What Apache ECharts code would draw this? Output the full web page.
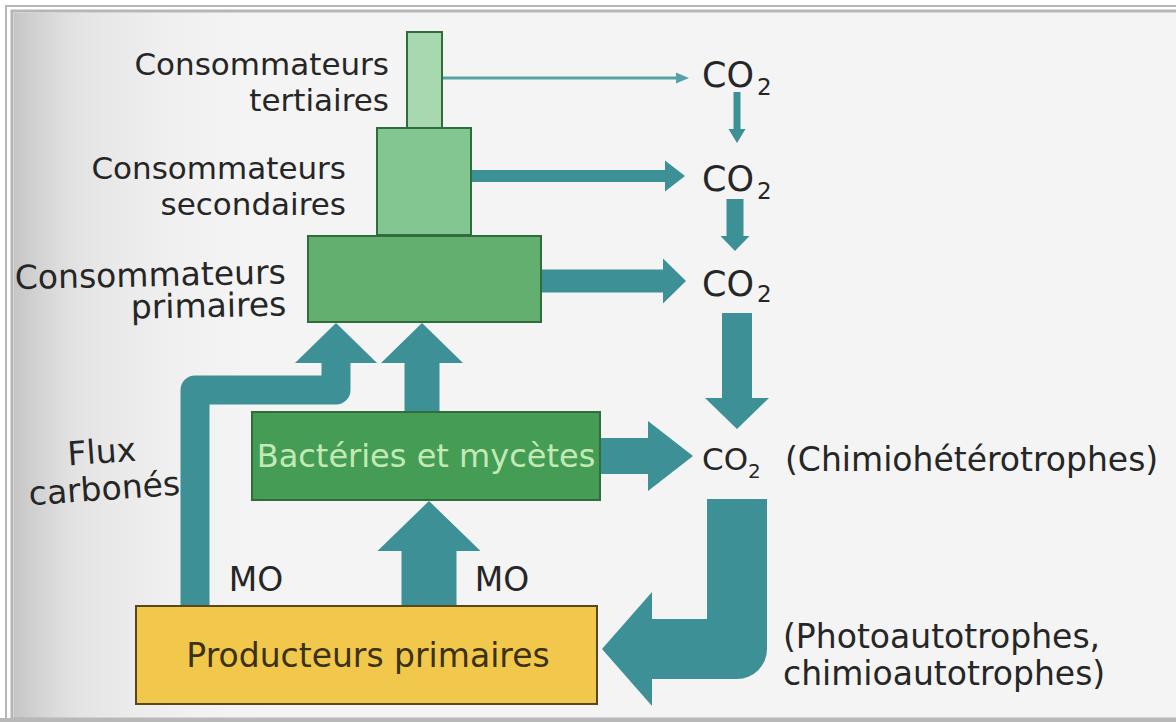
<!DOCTYPE html>
<html>
<head>
<meta charset="utf-8">
<title>Flux carbonés</title>
<script src="https://cdn.jsdelivr.net/npm/echarts@6/dist/echarts.min.js"></script>
<style>
  html, body { margin: 0; padding: 0; background: #fff; }
  #main { width: 1176px; height: 722px; }
</style>
</head>
<body>
<div id="main"></div>
<script>
  // boites du schema : [x0, y0, x1, y1] en unites du repere (0..1176, 0..722)
  var boxes = [
    [407, 32, 442, 128],   // consommateurs tertiaires
    [377, 128, 471, 235],  // consommateurs secondaires
    [308, 236, 541, 322],  // consommateurs primaires
    [252, 412, 600, 500],  // bacteries et mycetes
    [136, 606, 597, 704]   // producteurs primaires
  ];

  // fleches droites : [x depart, y depart, x pointe, y pointe, tige, tete, long. tete]
  var arrows = [
    [442, 78, 689, 78, 3, 11, 13],
    [737, 92, 737, 143, 7, 17, 14],
    [472, 176, 685, 176, 12, 31, 20],
    [735, 199, 735, 251, 17, 29, 15],
    [541, 281, 686, 281, 23, 45, 23],
    [737, 313, 737, 429, 30, 64, 31],
    [600, 456, 693, 456, 36, 70, 45],
    [429, 606, 429, 501, 55, 103, 50],
    [422, 412, 422, 323, 35, 82, 40]
  ];

  // fleches coudees : trace de la tige puis [tige, tete, long. tete]
  var bentPaths = [
    [[195, 606], [195, 390], [336, 390], [336, 363]],   // flux carbones
    [[737, 499], [737, 649], [652, 649]]                // retour vers producteurs
  ];
  var bentSizes = [[29, 82, 40], [60, 114, 50]];

  // textes et leur point d'ancrage
  var labelText = [
    'Consommateurs\ntertiaires',
    'Consommateurs\nsecondaires',
    'Consommateurs\nprimaires',
    'Flux\ncarbonés',
    'MO', 'MO',
    'Bactéries et mycètes',
    'Producteurs primaires',
    'CO', 'CO', 'CO', 'CO',
    '2', '2', '2', '2',
    '(Chimiohétérotrophes)',
    '(Photoautotrophes,\nchimioautotrophes)'
  ];
  var labelAnchor = [
    [389, 82], [346, 186], [286, 288], [103, 470],
    [256, 579], [502, 579],
    [426, 456], [368, 655],
    [702, 75], [702, 179], [702, 284], [702, 459],
    [757, 87], [757, 191], [757, 294], [748, 471],
    [785, 459], [783, 655]
  ];

  // styles
  var teal = '#3c9096';
  var ink = '#262626';
  var boxFill = ['#a8d8af', '#84c692', '#62af6f', '#459c55', '#f1c84b'];
  var boxStroke = ['#2f6d3c', '#2f6d3c', '#2f6d3c', '#2f6d3c', '#584820'];
  var arrowColor = ['#55a3a6', teal, teal, teal, teal, teal, teal, teal, teal];
  var labelLook = [
    { align: 'right', size: 31, lh: 36 },
    { align: 'right', size: 31, lh: 36 },
    { align: 'right', lh: 32, rot: 0.02 },
    { align: 'center', lh: 37, rot: 0.07 },
    { align: 'center' }, { align: 'center' },
    { align: 'center', size: 32, color: '#c3eab5' },
    { align: 'center', color: '#3b3114' },
    { align: 'left', size: 35 }, { align: 'left', size: 35 }, { align: 'left', size: 35 }, { align: 'left', size: 31 },
    { align: 'left', size: 23 }, { align: 'left', size: 23 }, { align: 'left', size: 23 }, { align: 'left', size: 20 },
    { align: 'left' },
    { align: 'left', lh: 37 }
  ];

  function arrowPoints(p0, p1, sw, hw, hl) {
    var dx = p1[0] - p0[0], dy = p1[1] - p0[1];
    var len = Math.sqrt(dx * dx + dy * dy);
    var ux = dx / len, uy = dy / len;
    var nx = -uy, ny = ux;
    var bx = p1[0] - ux * hl, by = p1[1] - uy * hl;
    return [
      [p0[0] + nx * sw / 2, p0[1] + ny * sw / 2],
      [bx + nx * sw / 2, by + ny * sw / 2],
      [bx + nx * hw / 2, by + ny * hw / 2],
      [p1[0], p1[1]],
      [bx - nx * hw / 2, by - ny * hw / 2],
      [bx - nx * sw / 2, by - ny * sw / 2],
      [p0[0] - nx * sw / 2, p0[1] - ny * sw / 2]
    ];
  }

  var myChart = echarts.init(document.getElementById('main'), null, { renderer: 'svg' });

  var option = {
    animation: false,
    backgroundColor: '#fff',
    grid: { left: 0, right: 0, top: 0, bottom: 0 },
    xAxis: { type: 'value', min: 0, max: 1176, show: false },
    yAxis: { type: 'value', min: 0, max: 722, inverse: true, show: false },
    graphic: [
      { type: 'rect', z: -10, shape: { x: 6, y: 6, width: 1220, height: 740 },
        style: { fill: '#fff', stroke: '#b6b6b6', lineWidth: 2 } },
      { type: 'rect', z: -9, shape: { x: 12, y: 11, width: 1220, height: 708 },
        style: { fill: '#f4f4f4', stroke: '#b6b6b6', lineWidth: 3 } },
      { type: 'rect', z: -8, shape: { x: 14, y: 13, width: 260, height: 705 },
        style: { fill: new echarts.graphic.LinearGradient(0, 0, 1, 0, [
          { offset: 0, color: 'rgba(160,160,160,0.55)' },
          { offset: 0.25, color: 'rgba(190,190,190,0.3)' },
          { offset: 1, color: 'rgba(244,244,244,0)' }
        ]) } },
      { type: 'rect', z: -7, shape: { x: 0, y: 718, width: 1176, height: 4 },
        style: { fill: '#b8b8b8' } }
    ],
    series: [
      {
        type: 'custom',
        name: 'fleches coudees',
        silent: true,
        z: 3,
        data: bentPaths.map(function (p, i) { return [p[0][0], p[0][1], i]; }),
        renderItem: function (params, api) {
          var i = params.dataIndex;
          var pts = bentPaths[i].map(function (p) { return api.coord(p); });
          var s = api.size([1, 1])[0];
          var sz = bentSizes[i];
          var a = pts[pts.length - 2], b = pts[pts.length - 1];
          var dx = b[0] - a[0], dy = b[1] - a[1];
          var len = Math.sqrt(dx * dx + dy * dy);
          var tip = [b[0] + dx / len * sz[2] * s, b[1] + dy / len * sz[2] * s];
          return {
            type: 'group',
            children: [
              { type: 'polyline', shape: { points: pts },
                style: { fill: null, stroke: teal, lineWidth: sz[0] * s, lineJoin: 'round', lineCap: 'butt' } },
              { type: 'polygon', shape: { points: arrowPoints(b, tip, 0, sz[1] * s, sz[2] * s) },
                style: { fill: teal } }
            ]
          };
        }
      },
      {
        type: 'custom',
        name: 'fleches',
        silent: true,
        z: 3,
        data: arrows,
        renderItem: function (params, api) {
          var p0 = api.coord([api.value(0), api.value(1)]);
          var p1 = api.coord([api.value(2), api.value(3)]);
          var s = api.size([1, 1])[0];
          return {
            type: 'polygon',
            shape: { points: arrowPoints(p0, p1, api.value(4) * s, api.value(5) * s, api.value(6) * s) },
            style: { fill: arrowColor[params.dataIndex] }
          };
        }
      },
      {
        type: 'custom',
        name: 'boites',
        silent: true,
        z: 4,
        data: boxes,
        renderItem: function (params, api) {
          var p0 = api.coord([api.value(0), api.value(1)]);
          var p1 = api.coord([api.value(2), api.value(3)]);
          return {
            type: 'rect',
            shape: {
              x: Math.min(p0[0], p1[0]), y: Math.min(p0[1], p1[1]),
              width: Math.abs(p1[0] - p0[0]), height: Math.abs(p1[1] - p0[1])
            },
            style: { fill: boxFill[params.dataIndex], stroke: boxStroke[params.dataIndex], lineWidth: 2 }
          };
        }
      },
      {
        type: 'custom',
        name: 'textes',
        silent: true,
        z: 5,
        data: labelAnchor,
        renderItem: function (params, api) {
          var i = params.dataIndex;
          var look = labelLook[i];
          var p = api.coord([api.value(0), api.value(1)]);
          var size = look.size || 33;
          return {
            type: 'text',
            x: p[0],
            y: p[1],
            rotation: look.rot || 0,
            style: {
              text: labelText[i],
              x: 0, y: 0,
              fill: look.color || ink,
              font: size + 'px "DejaVu Sans"',
              align: look.align,
              verticalAlign: 'middle',
              lineHeight: look.lh || size
            }
          };
        }
      }
    ]
  };

  myChart.setOption(option);
  window.onresize = function () {
    myChart.resize();
  };
</script>
</body>
</html>
